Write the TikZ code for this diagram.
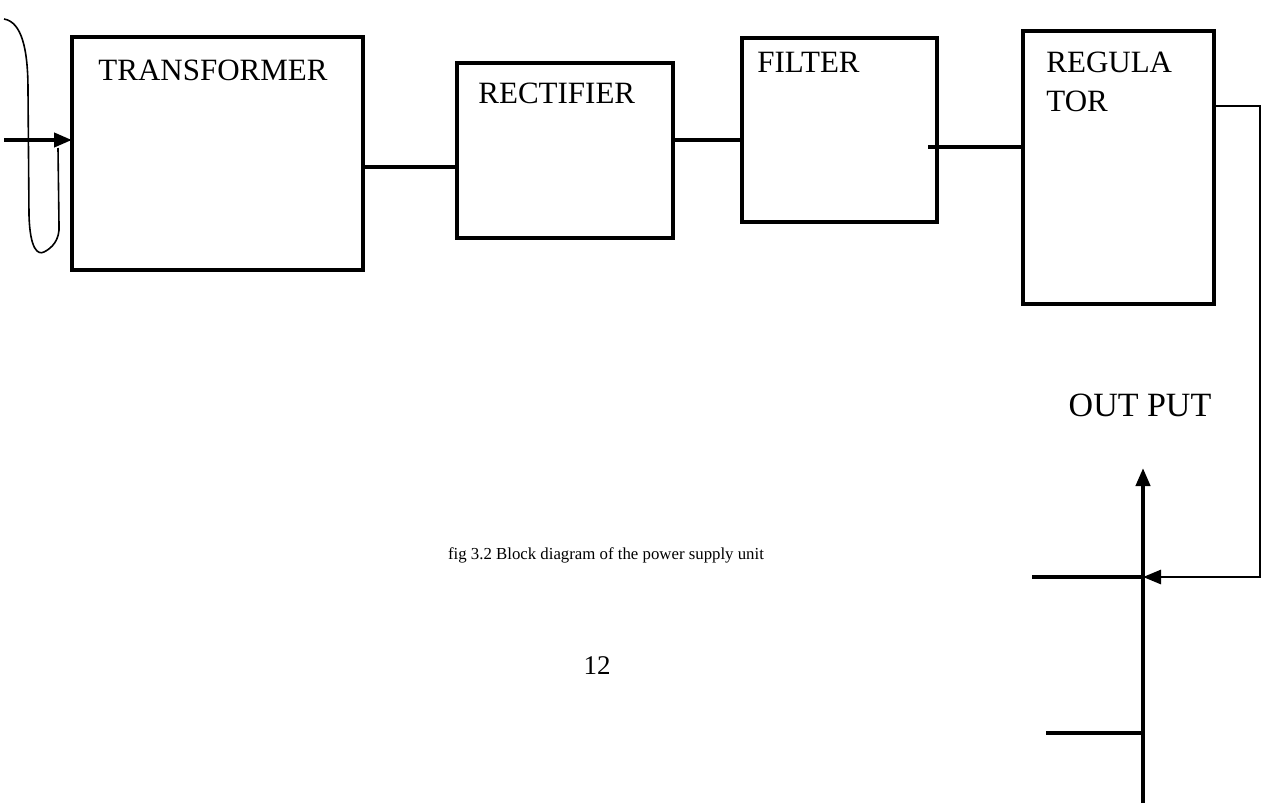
\documentclass[tikz,border=0pt]{standalone}
\usepackage{fontspec}
\setmainfont{Liberation Serif}
\usetikzlibrary{arrows.meta}
\begin{document}
\begin{tikzpicture}[x=0.5pt,y=-0.5pt,
  blk/.style={draw, line width=2.4pt, inner sep=0pt},
  wire/.style={line width=2pt},
  thinwire/.style={line width=1.4pt},
  lbl/.style={font=\fontsize{15.5}{18}\selectfont, anchor=north west, inner sep=0pt, align=left},
  tip/.style={-{Triangle[length=9pt,width=7pt]}}
]
\useasboundingbox (0,0) rectangle (1262,803);
% boxes
\draw[blk] (72,37) rectangle (363,270);
\draw[blk] (457,63) rectangle (673,238);
\draw[blk] (742,38) rectangle (937,222);
\draw[blk] (1023,31) rectangle (1214,304);
\coordinate (trE) at (363,167);
\coordinate (reW) at (457,167);
\coordinate (reE) at (673,140);
\coordinate (fiW) at (742,140);
\coordinate (fiIn) at (928,147);
\coordinate (rgW) at (1023,147);
\coordinate (rgE) at (1214,106);
\coordinate (cr) at (1260,106);
\coordinate (crB) at (1260,577);
\coordinate (junc) at (1143,577);
\coordinate (stubA) at (1032,577);
\coordinate (vTop) at (1143,468);
\coordinate (vBot) at (1143,803);
\coordinate (stubB) at (1046,733);
\coordinate (stubBj) at (1143,733);
\coordinate (inA) at (4,140);
\coordinate (inB) at (72,140);
% labels
\node[lbl] (t1) at (98,60) {TRANSFORMER};
\node[lbl] (t2) at (478,83) {RECTIFIER};
\node[lbl] (t3) at (757,52) {FILTER};
\node[lbl, font=\fontsize{15.5}{19.5}\selectfont] (t4) at (1046,52) {REGULA\\TOR};
\node[font=\fontsize{17}{20}\selectfont, inner sep=0pt] (out) at (1140,405) {OUT PUT};
\node[font=\fontsize{8.4}{10}\selectfont, inner sep=0pt] (cap) at (606,555) {fig 3.2 Block diagram of the power supply unit};
\node[font=\fontsize{13.5}{16}\selectfont, inner sep=0pt] (pg) at (597,666) {12};
% connectors
\draw[wire] (trE) -- (reW);
\draw[wire] (reE) -- (fiW);
\draw[wire] (fiIn) -- (rgW);
\draw[thinwire, line join=miter] (rgE) -- (cr) -- (crB) -- (1150,577);
\draw[thinwire, tip] (1200,577) -- (junc);
\draw[wire] (stubA) -- (junc);
\draw[wire, tip] (vBot) -- (vTop);
\draw[wire] (stubB) -- (stubBj);
\draw[wire, tip] (inA) -- (inB);
% hand-drawn bracket
\draw[line width=0.8pt] (4,19) .. controls (22,22) and (28,50) .. (28,90)
  -- (29,215) .. controls (30,250) and (38,255) .. (44,252)
  .. controls (52,248) and (60,240) .. (59,225) -- (58,148);
\end{tikzpicture}
\end{document}
